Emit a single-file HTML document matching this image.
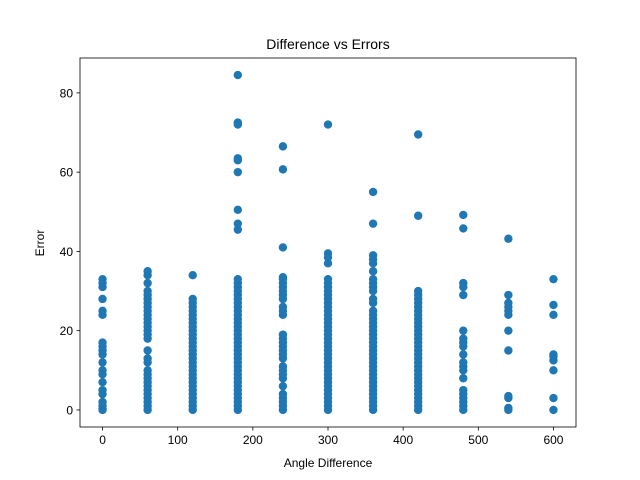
<!DOCTYPE html>
<html><head><meta charset="utf-8"><style>
html,body{margin:0;padding:0;background:#fff;}
svg{display:block;font-family:"Liberation Sans","DejaVu Sans",sans-serif;}
</style></head><body>
<svg id="chart" width="640" height="480">
<rect x="0" y="0" width="640" height="480" fill="#fff"/>
<text x="328" y="49" text-anchor="middle" font-size="14">Difference vs Errors</text>
<text x="328" y="467" text-anchor="middle" font-size="12">Angle Difference</text>
<text x="44" y="243" text-anchor="middle" font-size="12" transform="rotate(-90 44 243)">Error</text>
<g id="points"></g>
<g id="axes"></g>
</svg>
<script>
const categories = [0,60,120,180,240,300,360,420,480,540,600];
const col0 = [0,0.3,1,2,4,5,7,9,10,12,14,15,16,17,24,25,28,31,32,33];
const col60 = [0,1,2,3,4,5,6,7,8,9,10,12,13,15,18,19,20,21,22,23,24,25,26,27,28,29,30,32,34,35];
const col120 = [0,1,2,3,4,5,6,7,8,9,10,11,12,13,14,15,16,17,18,19,20,21,22,23,24,25,26,27,28,34];
const col180 = [0,1,2,3,4,5,6,7,8,9,10,11,12,13,14,15,16,17,18,19,20,21,22,23,24,25,26,27,28,29,30,31,32,33,45.5,47,50.5,60,63,63.5,72,72.5,84.5];
const col240 = [0,1,2,3,4,6,8,9,10,11,13,14,15,16,17,18,19,24,25,26,28,29,30,31,32,33,33.5,41,60.7,66.5];
const col300 = [0,1,2,3,4,5,6,7,8,9,10,11,12,13,14,15,16,17,18,19,20,21,22,23,24,25,26,27,28,29,30,31,32,33,37,38.5,39.5,72];
const col360 = [0,1,2,3,4,5,6,7,8,9,10,11,12,13,14,15,16,17,18,19,20,21,22,23,24,25,27,28,30,31,32,33,35,37,38,39,47,55];
const col420 = [0,1,2,3,4,5,6,7,8,9,10,11,12,13,14,15,16,17,18,19,20,21,22,23,24,25,26,27,28,29,30,49,69.5];
const col480 = [0,1,2,3,4,5,8,10,11,12,14,16,17,18,20,29,31,32,45.8,49.2];
const col540 = [0,0.5,3,3.5,15,20,24,25,26,27,29,43.2];
const col600 = [0,3,10,12.5,13.5,14,24,26.5,33];
const seriesValues = [col0,col60,col120,col180,col240,col300,col360,col420,col480,col540,col600];
const xTicks = [0,100,200,300,400,500,600];
const yTicks = [0,20,40,60,80];

const L=80,R=576,T=58,B=427;
const xMin=-30,xMax=630,yMin=-4.3,yMax=88.8;
const xs=v=>L+(v-xMin)/(xMax-xMin)*(R-L);
const ys=v=>B-(v-yMin)/(yMax-yMin)*(B-T);
const NS="http://www.w3.org/2000/svg";
const pg=document.getElementById('points');
categories.forEach((c,i)=>{
  seriesValues[i].forEach(v=>{
    const el=document.createElementNS(NS,'circle');
    el.setAttribute('cx',xs(c));el.setAttribute('cy',ys(v));
    el.setAttribute('r',4.2);el.setAttribute('fill','#1f77b4');
    
    
    pg.appendChild(el);
  });
});
const ag=document.getElementById('axes');
const fr=document.createElementNS(NS,'rect');
fr.setAttribute('x',L);fr.setAttribute('y',T);fr.setAttribute('width',R-L);fr.setAttribute('height',B-T);
fr.setAttribute('fill','none');fr.setAttribute('stroke','#000');fr.setAttribute('stroke-width','0.8');


ag.appendChild(fr);
xTicks.forEach(t=>{
  const x=xs(t);
  const ln=document.createElementNS(NS,'line');
  ln.setAttribute('x1',x);ln.setAttribute('x2',x);ln.setAttribute('y1',B);ln.setAttribute('y2',B+3.5);
  ln.setAttribute('stroke','#000');ln.setAttribute('stroke-width','0.8');
  
  
  ag.appendChild(ln);
  const tx=document.createElementNS(NS,'text');
  tx.setAttribute('x',x);tx.setAttribute('y',B+17);tx.setAttribute('text-anchor','middle');tx.setAttribute('font-size','12');
  tx.textContent=t;
  
  
  ag.appendChild(tx);
});
yTicks.forEach(t=>{
  const y=ys(t);
  const ln=document.createElementNS(NS,'line');
  ln.setAttribute('x1',L-3.5);ln.setAttribute('x2',L);ln.setAttribute('y1',y);ln.setAttribute('y2',y);
  ln.setAttribute('stroke','#000');ln.setAttribute('stroke-width','0.8');
  
  
  ag.appendChild(ln);
  const tx=document.createElementNS(NS,'text');
  tx.setAttribute('x',L-7);tx.setAttribute('y',y+4.5);tx.setAttribute('text-anchor','end');tx.setAttribute('font-size','12');
  tx.textContent=t;
  
  
  ag.appendChild(tx);
});
</script>
</body></html>
